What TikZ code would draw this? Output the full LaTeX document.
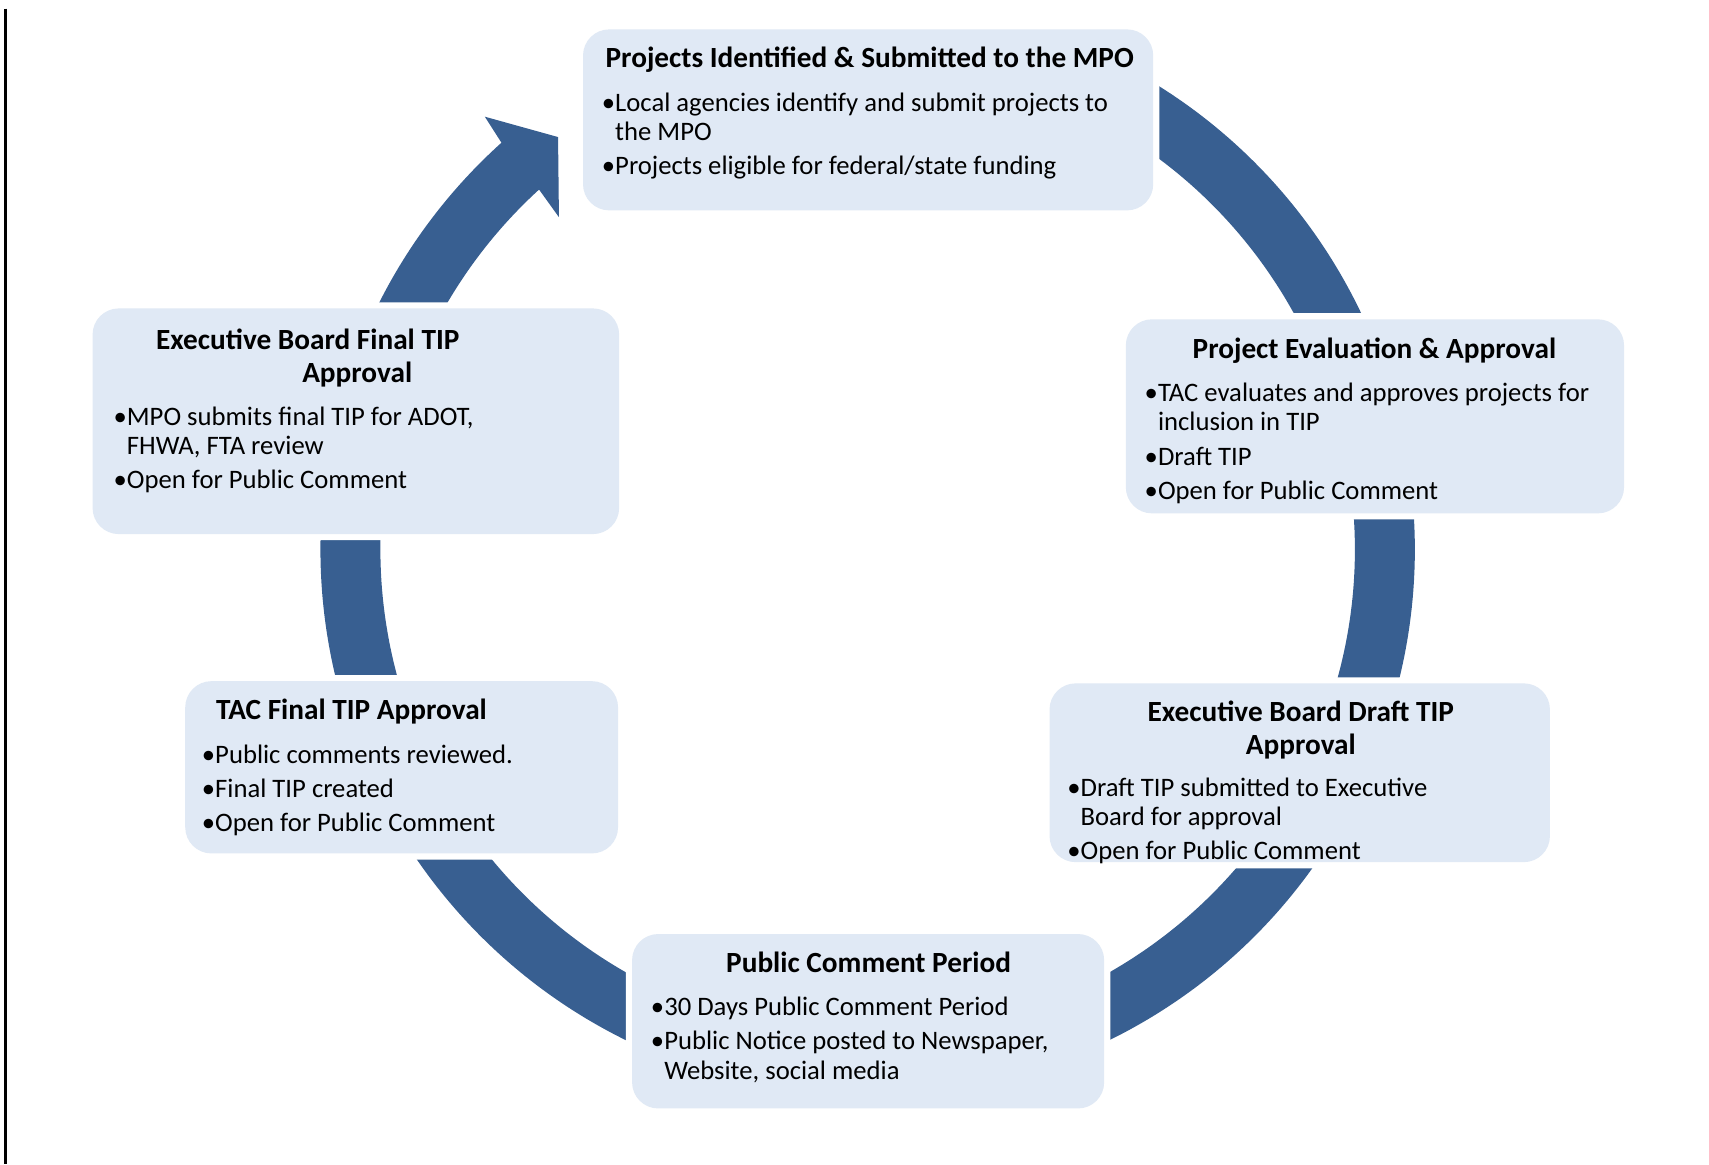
\documentclass[tikz,border=0pt]{standalone}
\usepackage{fontspec}
\setmainfont{Carlito}
\usetikzlibrary{backgrounds}
\definecolor{ringblue}{HTML}{385F91}
\definecolor{boxblue}{HTML}{E0E9F5}

\begin{document}
\begin{tikzpicture}[x=0.025cm, y=0.025cm,
    box/.style={rounded corners=0.6cm, fill=boxblue, inner sep=0pt,
        preaction={draw=white, line width=0.28cm}},
    head/.style={anchor=base, align=center, inner sep=0pt,
        font=\fontsize{19.1}{21.3}\selectfont\bfseries},
    items/.style={anchor=base west, align=left, inner sep=0pt,
        font=\fontsize{17.4}{19}\selectfont},
    ring/.style={draw=ringblue, line width=1.375cm}]
    \useasboundingbox (0,0) rectangle (1568,1068);
    \draw[line width=0.06cm] (5,1060) -- (5,0);

    \foreach \n/\x/\y/\w/\h in {ident/796.5/958/13.075/4.15, eval/1261.5/686/11.425/4.45,
        exdraft/1192.5/359/11.475/4.1, pubc/796.5/131/10.825/4.0,
        tacfin/368.5/364/9.925/3.95, exfin/326.5/681.5/12.075/5.175}{
        \node[box, minimum width=\w cm, minimum height=\h cm] (\n) at (\x,\y) {};
    }

    \node[head] (ident-t) at (798,1006) {Projects Identified \& Submitted to the MPO};
    \node[items] (ident-i) at (552,908) {•Local agencies identify and submit projects to\\\phantom{•}the MPO\\[0.115cm]•Projects eligible for federal/state funding};

    \node[head] (eval-t) at (1261,739) {Project Evaluation \& Approval};
    \node[items] (eval-i) at (1050,610) {•TAC evaluates and approves projects for\\\phantom{•}inclusion in TIP\\[0.115cm]•Draft TIP\\[0.115cm]•Open for Public Comment};

    \node[head] (exdraft-t) at (1193.5,376) {Executive Board Draft TIP\\Approval};
    \node[items] (exdraft-i) at (979,279) {•Draft TIP submitted to Executive\\\phantom{•}Board for approval\\[0.115cm]•Open for Public Comment};

    \node[head] (pubc-t) at (797,176) {Public Comment Period};
    \node[items] (pubc-i) at (597,78) {•30 Days Public Comment Period\\[0.115cm]•Public Notice posted to Newspaper,\\\phantom{•}Website, social media};

    \node[head, anchor=base west] (tacfin-t) at (198,408) {TAC Final TIP Approval};
    \node[items] (tacfin-i) at (185,305) {•Public comments reviewed.\\[0.115cm]•Final TIP created\\[0.115cm]•Open for Public Comment};

    \node[head, anchor=base west, align=left] (exfin-t) at (143,717) {Executive Board Final TIP\\\hspace*{3.35cm}Approval};
    \node[items] (exfin-i) at (104,620) {•MPO submits final TIP for ADOT,\\\phantom{•}FHWA, FTA review\\[0.115cm]•Open for Public Comment};

    \coordinate (ctr) at (796,564);
    \begin{scope}[on background layer]
        \draw[ring] (ctr) ++(65:474.5) arc[start angle=65, end angle=-229, radius=474.5];
        \fill[ringblue, shift={(ctr)}] (132:502) -- (131.5:530) -- (126.9:473) -- (132.9:416) -- (132.4:447) -- cycle;
    \end{scope}
\end{tikzpicture}
\end{document}
